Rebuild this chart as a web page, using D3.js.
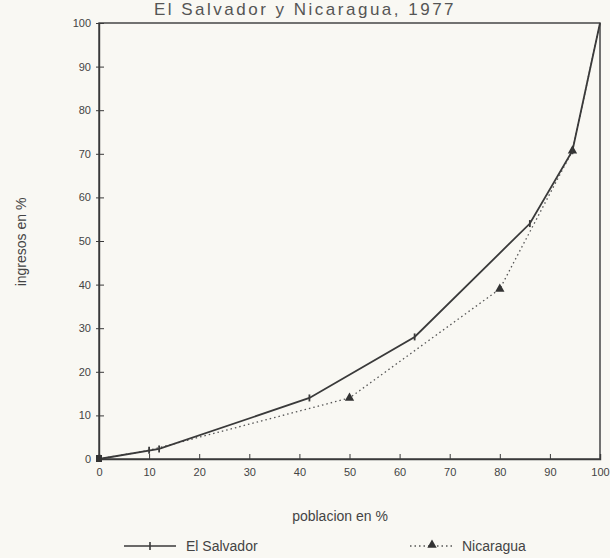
<!DOCTYPE html>
<meta charset="utf-8">
<script src="https://d3js.org/d3.v7.min.js"></script>
<style>
  body { margin: 0; background: #f9f8f3; }
  svg { display: block; font-family: "Liberation Sans", Arial, sans-serif; }
</style>
<div id="container"></div>
<script>
// data
var titleText = "El Salvador y Nicaragua, 1977";
var salvadorX = [0, 12, 42, 63, 86, 94.5, 100];
var salvadorY = [0, 2.3, 14, 28, 54, 70.7, 100];
var nicaraguaX = [0, 10, 50, 80, 94.5, 100];
var nicaraguaY = [0, 2, 14, 39, 70.7, 100];
var xTicks = [0, 10, 20, 30, 40, 50, 60, 70, 80, 90, 100];
var yTicks = [0, 10, 20, 30, 40, 50, 60, 70, 80, 90, 100];

var W = 610, H = 558;
var ink = "#3a3a3a";

var svg = d3.select("#container").append("svg")
  .attr("width", W)
  .attr("height", H);

var x = d3.scaleLinear().domain([0, 100]).range([99, 600]);
var y = d3.scaleLinear().domain([0, 100]).range([459, 23]);

// title (the scan crops it at the top edge)
svg.append("text")
  .attr("x", 305)
  .attr("y", 15)
  .attr("text-anchor", "middle")
  .style("font-size", "17px")
  .style("letter-spacing", "2.5px")
  .style("fill", "#555")
  .text(titleText);

// frame
svg.append("rect")
  .attr("x", x(0)).attr("y", y(100))
  .attr("width", x(100) - x(0)).attr("height", y(0) - y(100))
  .attr("fill", "none")
  .attr("stroke", ink)
  .attr("stroke-width", 1.4);

// axes
var xAxis = svg.append("g")
  .attr("transform", "translate(0," + y(0) + ")")
  .call(d3.axisBottom(x).tickValues(xTicks).tickSize(-5).tickPadding(9));
var yAxis = svg.append("g")
  .attr("transform", "translate(" + x(0) + ",0)")
  .call(d3.axisLeft(y).tickValues(yTicks).tickSizeInner(-5).tickSizeOuter(0).tickPadding(8));

[xAxis, yAxis].forEach(function (g) {
  g.select(".domain").attr("stroke", ink).attr("stroke-width", 1.4);
  g.selectAll(".tick line").attr("stroke", ink);
  g.selectAll(".tick text")
    .style("font-size", "11px")
    .style("fill", "#444");
});
yAxis.selectAll(".tick line").attr("x1", -3);

// lines
function pts(xs, ys) {
  return xs.map(function (d, i) { return [d, ys[i]]; });
}
var salvador = pts(salvadorX, salvadorY);
var nicaragua = pts(nicaraguaX, nicaraguaY);

var line = d3.line()
  .x(function (d) { return x(d[0]); })
  .y(function (d) { return y(d[1]); });

svg.append("path")
  .datum(nicaragua)
  .attr("d", line)
  .attr("fill", "none")
  .attr("stroke", "#555")
  .attr("stroke-width", 1.3)
  .attr("stroke-dasharray", "1.5,3");

svg.append("path")
  .datum(salvador)
  .attr("d", line)
  .attr("fill", "none")
  .attr("stroke", ink)
  .attr("stroke-width", 1.8);

// markers
var tri = d3.symbol().type(d3.symbolTriangle).size(38);
svg.append("g")
  .selectAll("path")
  .data(nicaragua.slice(2, -1))
  .enter()
  .append("path")
    .attr("d", tri)
    .attr("transform", function (d) { return "translate(" + x(d[0]) + "," + y(d[1]) + ")"; })
    .attr("fill", "#333");

svg.append("g")
  .selectAll("line")
  .data(salvador.slice(1, -1).concat([nicaragua[1]]))
  .enter()
  .append("line")
    .attr("x1", function (d) { return x(d[0]); })
    .attr("x2", function (d) { return x(d[0]); })
    .attr("y1", function (d) { return y(d[1]) - 3.5; })
    .attr("y2", function (d) { return y(d[1]) + 3.5; })
    .attr("stroke", ink)
    .attr("stroke-width", 1.8);

// origin marker
svg.append("rect")
  .attr("x", x(0) - 3).attr("y", y(0) - 4)
  .attr("width", 6).attr("height", 7)
  .attr("fill", "#333");

// axis titles
svg.append("text")
  .attr("transform", "translate(26," + 242 + ") rotate(-90)")
  .attr("text-anchor", "middle")
  .style("font-size", "14px")
  .style("fill", "#444")
  .text("ingresos en %");

svg.append("text")
  .attr("x", 340)
  .attr("y", 521)
  .attr("text-anchor", "middle")
  .style("font-size", "14px")
  .style("fill", "#444")
  .text("poblacion en %");

// legend
var legend = svg.append("g");
legend.append("line")
  .attr("x1", 124).attr("x2", 176).attr("y1", 546).attr("y2", 546)
  .attr("stroke", ink).attr("stroke-width", 1.6);
legend.append("line")
  .attr("x1", 150).attr("x2", 150).attr("y1", 542).attr("y2", 550)
  .attr("stroke", ink).attr("stroke-width", 1.6);
legend.append("text")
  .attr("x", 186).attr("y", 551)
  .style("font-size", "14px").style("fill", "#444")
  .text("El Salvador");

legend.append("line")
  .attr("x1", 410).attr("x2", 455).attr("y1", 546).attr("y2", 546)
  .attr("stroke", "#555").attr("stroke-width", 1.3)
  .attr("stroke-dasharray", "1.5,3");
legend.append("path")
  .attr("d", tri)
  .attr("transform", "translate(432,545)")
  .attr("fill", "#333");
legend.append("text")
  .attr("x", 462).attr("y", 551)
  .style("font-size", "14px").style("fill", "#444")
  .text("Nicaragua");
</script>
